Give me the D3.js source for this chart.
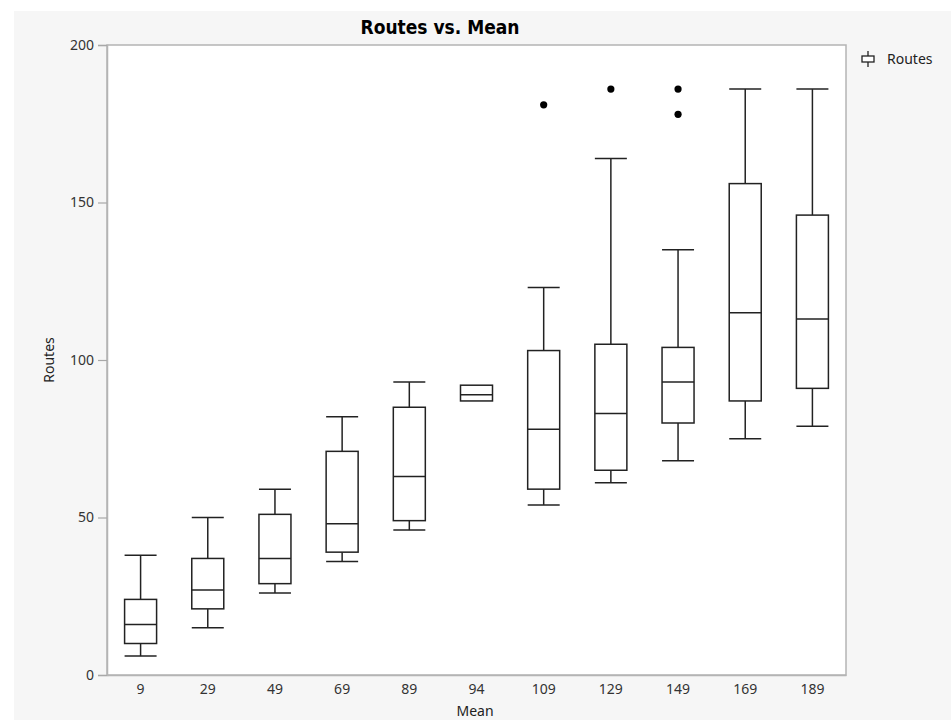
<!DOCTYPE html>
<html>
<head>
<meta charset="utf-8">
<script src="https://cdn.jsdelivr.net/npm/d3@7/dist/d3.min.js"></script>
<style>
  html, body { margin: 0; padding: 0; background: #ffffff; }
  svg { display: block; }
</style>
</head>
<body>
<svg id="chart" width="951" height="720"></svg>
<script>
// ---- Data ----
const categories = ["9", "29", "49", "69", "89", "94", "109", "129", "149", "169", "189"];
const whiskerLow  = [6, 15, 26, 36, 46, 87, 54, 61, 68, 75, 79];
const q1Values    = [10, 21, 29, 39, 49, 87, 59, 65, 80, 87, 91];
const medians     = [16, 27, 37, 48, 63, 89, 78, 83, 93, 115, 113];
const q3Values    = [24, 37, 51, 71, 85, 92, 103, 105, 104, 156, 146];
const whiskerHigh = [38, 50, 59, 82, 93, 92, 123, 164, 135, 186, 186];
const outliers    = [[], [], [], [], [], [], [181], [186], [186, 178], [], []];
const yTicks      = [0, 50, 100, 150, 200];

const boxes = categories.map((c, i) => ({
  cat: c, lo: whiskerLow[i], q1: q1Values[i], med: medians[i],
  q3: q3Values[i], hi: whiskerHigh[i], out: outliers[i]
}));

// ---- Layout ----
const svg = d3.select("#chart");
const W = 951, H = 720;
const plot = { left: 107, right: 846, top: 45, bottom: 675 };
const font = "'Noto Sans', 'Open Sans', sans-serif";

// panel background
svg.append("rect").attr("x", 0).attr("y", 0).attr("width", W).attr("height", H).attr("fill", "#ffffff");
svg.append("rect").attr("x", 14).attr("y", 11).attr("width", W - 14).attr("height", H - 11).attr("fill", "#f6f6f6");
svg.append("rect")
  .attr("x", plot.left).attr("y", plot.top)
  .attr("width", plot.right - plot.left).attr("height", plot.bottom - plot.top)
  .attr("fill", "#ffffff").attr("stroke", "#b4b4b4").attr("stroke-width", 1.5);

const x = d3.scaleBand().domain(categories).range([plot.left, plot.right]).paddingInner(0).paddingOuter(0);
const y = d3.scaleLinear().domain([0, 200]).range([plot.bottom, plot.top]);

// Y axis
const yAxis = svg.append("g").attr("transform", `translate(${plot.left},0)`)
  .call(d3.axisLeft(y).tickValues(yTicks).tickSize(9).tickPadding(4));
yAxis.select(".domain").attr("stroke", "#b4b4b4").attr("stroke-width", 1.5);
yAxis.selectAll(".tick line").attr("stroke", "#a8a8a8").attr("stroke-width", 1.2);
yAxis.selectAll(".tick text").attr("font-family", font).attr("font-size", 14).attr("fill", "#333333");

// X axis
const xAxis = svg.append("g").attr("transform", `translate(0,${plot.bottom})`)
  .call(d3.axisBottom(x).tickSize(0).tickPadding(9));
xAxis.select(".domain").attr("stroke", "#b4b4b4").attr("stroke-width", 1.5);
xAxis.selectAll(".tick text").attr("font-family", font).attr("font-size", 14).attr("fill", "#333333");

// Boxes
const boxW = 32;
const g = svg.append("g").attr("stroke", "#222222").attr("stroke-width", 1.5).attr("fill", "none");
boxes.forEach(b => {
  const cx = x(b.cat) + x.bandwidth() / 2;
  const gb = g.append("g");
  // whiskers
  gb.append("line").attr("x1", cx).attr("x2", cx).attr("y1", y(b.hi)).attr("y2", y(b.q3));
  gb.append("line").attr("x1", cx).attr("x2", cx).attr("y1", y(b.q1)).attr("y2", y(b.lo));
  // caps
  if (b.hi !== b.q3) gb.append("line").attr("x1", cx - boxW / 2).attr("x2", cx + boxW / 2).attr("y1", y(b.hi)).attr("y2", y(b.hi));
  if (b.lo !== b.q1) gb.append("line").attr("x1", cx - boxW / 2).attr("x2", cx + boxW / 2).attr("y1", y(b.lo)).attr("y2", y(b.lo));
  // box
  gb.append("rect").attr("x", cx - boxW / 2).attr("width", boxW)
    .attr("y", y(b.q3)).attr("height", y(b.q1) - y(b.q3)).attr("fill", "#ffffff");
  // median
  gb.append("line").attr("x1", cx - boxW / 2).attr("x2", cx + boxW / 2).attr("y1", y(b.med)).attr("y2", y(b.med));
  // outliers
  b.out.forEach(v => {
    svg.append("circle").attr("cx", cx).attr("cy", y(v)).attr("r", 3.6).attr("fill", "#000000");
  });
});

// Title and labels
svg.append("text").attr("x", 440).attr("y", 34).attr("text-anchor", "middle")
  .attr("font-family", "'DejaVu Sans Condensed', 'Liberation Sans Narrow', 'Noto Sans', sans-serif")
  .attr("font-weight", "bold").attr("font-size", 19).attr("fill", "#000000")
  .text("Routes vs. Mean");

svg.append("text").attr("x", 475).attr("y", 716).attr("text-anchor", "middle")
  .attr("font-family", font).attr("font-size", 14).attr("fill", "#222222").text("Mean");

svg.append("text").attr("transform", "translate(54,360) rotate(-90)").attr("text-anchor", "middle")
  .attr("font-family", font).attr("font-size", 14).attr("fill", "#222222").text("Routes");

// Legend
const lg = svg.append("g").attr("transform", "translate(868,59)");
lg.append("line").attr("x1", 0).attr("x2", 0).attr("y1", -8).attr("y2", 8).attr("stroke", "#222").attr("stroke-width", 1.3);
lg.append("rect").attr("x", -6).attr("y", -3).attr("width", 12).attr("height", 6).attr("fill", "#fff").attr("stroke", "#222").attr("stroke-width", 1.3);
lg.append("text").attr("x", 19).attr("y", 5).attr("font-family", font).attr("font-size", 14).attr("fill", "#222222").text("Routes");
</script>
</body>
</html>
